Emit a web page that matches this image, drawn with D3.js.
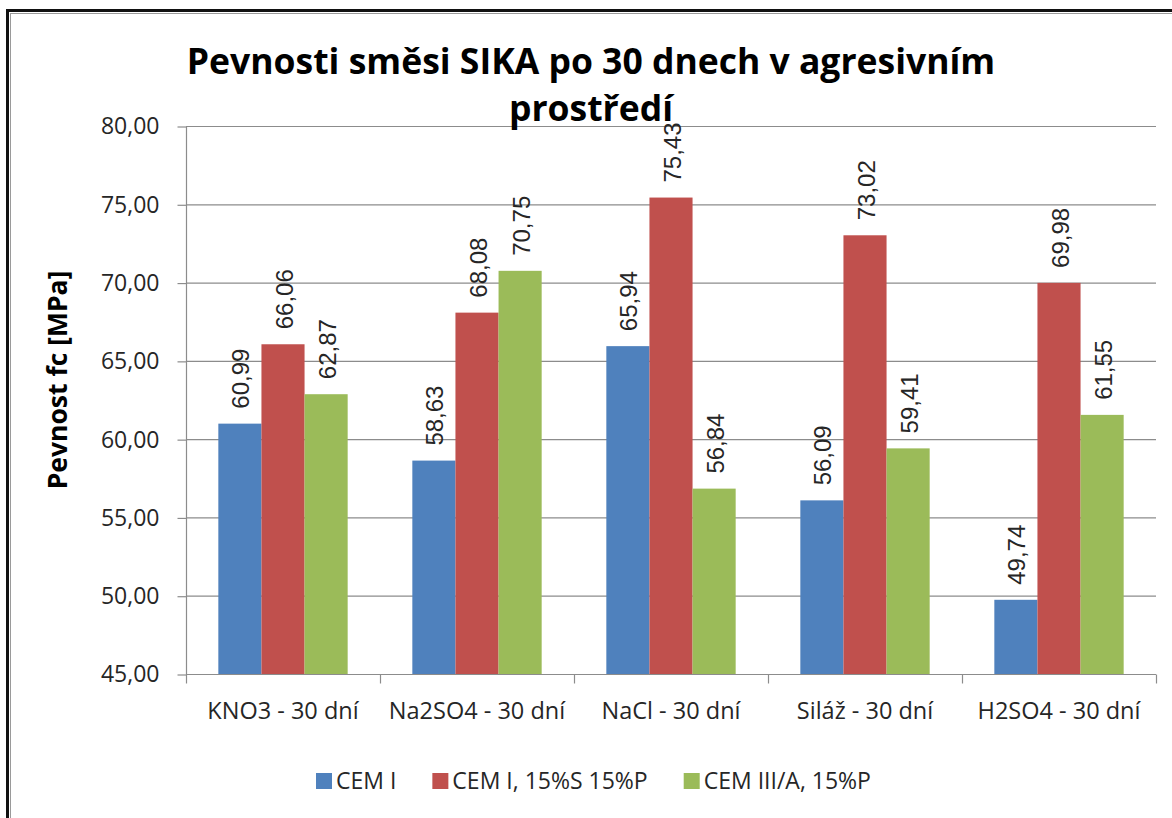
<!DOCTYPE html>
<html>
<head>
<meta charset="utf-8">
<script src="https://cdn.jsdelivr.net/npm/d3@7"></script>
<style>
	body { margin: 0; background: #fff; }
	svg { display: block; }
</style>
</head>
<body>
<script>
// * Data

const categories = ["KNO3 - 30 dní", "Na2SO4 - 30 dní", "NaCl - 30 dní", "Siláž - 30 dní", "H2SO4 - 30 dní"];
const seriesNames = ["CEM I", "CEM I, 15%S 15%P", "CEM III/A, 15%P"];
const cemI = [60.99, 58.63, 65.94, 56.09, 49.74];
const cemISP = [66.06, 68.08, 75.43, 73.02, 69.98];
const cemIIIA = [62.87, 70.75, 56.84, 59.41, 61.55];
const yTicks = [45, 50, 55, 60, 65, 70, 75, 80];
const titleLines = ["Pevnosti směsi SIKA po 30 dnech v agresivním", "prostředí"];
const yTitle = "Pevnost fc [MPa]";

// * Size & Margins
const width = 1172;
const height = 818;
const plot = { left: 186, right: 1156, top: 126, bottom: 674 };
const colors = ["#4F81BD", "#C0504D", "#9BBB59"];
const font = "'Open Sans', 'Noto Sans', sans-serif";

const svg = d3
	.select("body")
	.append("svg")
	.attr("width", width)
	.attr("height", height);

// * Frame (continues past the right and bottom edges)
svg.append("rect")
	.attr("x", 7.5).attr("y", 10.5)
	.attr("width", width + 20).attr("height", height + 20)
	.attr("fill", "#fff")
	.attr("stroke", "#111")
	.attr("stroke-width", 3);
svg.append("rect")
	.attr("x", 10.5).attr("y", 13.5)
	.attr("width", width + 20).attr("height", height + 20)
	.attr("fill", "none")
	.attr("stroke", "#9a9a9a")
	.attr("stroke-width", 1);

// * Scales
const x = d3.scaleBand()
	.domain(categories)
	.range([plot.left, plot.right])
	.padding(0);

const xInner = d3.scaleBand()
	.domain(seriesNames)
	.range([0, x.bandwidth()])
	.paddingInner(0)
	.paddingOuter(0.75);

const y = d3.scaleLinear()
	.domain([45, 80])
	.range([plot.bottom, plot.top]);

const color = d3.scaleOrdinal().domain(seriesNames).range(colors);
const fmt = (v) => d3.format(".2f")(v).replace(".", ",");

// * Grid lines
svg.append("g")
	.selectAll("line")
	.data(yTicks.slice(1))
	.join("line")
	.attr("x1", plot.left).attr("x2", plot.right)
	.attr("y1", (d) => y(d) + 0.5).attr("y2", (d) => y(d) + 0.5)
	.attr("stroke", "#8c8c8c")
	.attr("stroke-width", 1.2);

// * Y axis
const yAxis = svg.append("g")
	.attr("transform", `translate(${plot.left + 0.5},0.5)`)
	.call(d3.axisLeft(y).tickValues(yTicks).tickSize(9).tickPadding(18).tickFormat(fmt));
yAxis.selectAll("path, line").attr("stroke", "#8c8c8c").attr("stroke-width", 1.2);
yAxis.select(".domain").attr("d", `M0,${plot.top}V${plot.bottom}`);
yAxis.selectAll("text")
	.attr("font-family", font)
	.attr("font-size", 23)
	.attr("fill", "#262626");

// * X axis
const xAxisG = svg.append("g")
	.attr("transform", `translate(0,${plot.bottom + 0.5})`);
xAxisG.append("line")
	.attr("x1", plot.left).attr("x2", plot.right)
	.attr("stroke", "#8c8c8c").attr("stroke-width", 1.2);
xAxisG.selectAll(".tk")
	.data(categories.concat([null]))
	.join("line")
	.attr("class", "tk")
	.attr("x1", (d, i) => Math.round(plot.left + i * x.step()) + 0.5)
	.attr("x2", (d, i) => Math.round(plot.left + i * x.step()) + 0.5)
	.attr("y1", 0).attr("y2", 9)
	.attr("stroke", "#8c8c8c").attr("stroke-width", 1.2);
xAxisG.selectAll("text")
	.data(categories)
	.join("text")
	.attr("x", (d) => x(d) + x.bandwidth() / 2)
	.attr("y", 44)
	.attr("text-anchor", "middle")
	.attr("font-family", font)
	.attr("font-size", 23.5)
	.attr("fill", "#262626")
	.text((d) => d);

// * Bars
const rows = [];
categories.forEach((c, i) => {
	rows.push({ cat: c, s: seriesNames[0], v: cemI[i] });
	rows.push({ cat: c, s: seriesNames[1], v: cemISP[i] });
	rows.push({ cat: c, s: seriesNames[2], v: cemIIIA[i] });
});

svg.append("g")
	.selectAll("rect")
	.data(rows)
	.join("rect")
	.attr("x", (d) => x(d.cat) + xInner(d.s))
	.attr("y", (d) => y(d.v))
	.attr("width", xInner.bandwidth())
	.attr("height", (d) => y(45) - y(d.v))
	.attr("fill", (d) => color(d.s));

// * Value labels (rotated)
svg.append("g")
	.selectAll("text")
	.data(rows)
	.join("text")
	.attr("transform", (d) => {
		const cx = x(d.cat) + xInner(d.s) + xInner.bandwidth() / 2;
		return `translate(${cx + 9.5},${y(d.v) - 15}) rotate(-90)`;
	})
	.attr("font-family", "'Liberation Sans', Arial, sans-serif")
	.attr("font-size", 24)
	.attr("fill", "#262626")
	.text((d) => fmt(d.v));

// * Title
svg.append("g")
	.selectAll("text")
	.data(titleLines)
	.join("text")
	.attr("x", 591)
	.attr("y", (d, i) => 74 + i * 47)
	.attr("text-anchor", "middle")
	.attr("font-family", font)
	.attr("font-weight", "bold")
	.attr("font-size", 35.5)
	.attr("fill", "#000")
	.text((d) => d);

// * Y title
svg.append("text")
	.attr("transform", "translate(67,380) rotate(-90)")
	.attr("text-anchor", "middle")
	.attr("font-family", font)
	.attr("font-weight", "bold")
	.attr("font-size", 26.5)
	.attr("fill", "#000")
	.text(yTitle);

// * Legend
const legend = svg.append("g").attr("transform", "translate(316,781)");
let lx = 0;
seriesNames.forEach((s) => {
	legend.append("rect")
		.attr("x", lx).attr("y", -8)
		.attr("width", 16).attr("height", 16)
		.attr("fill", color(s));
	const t = legend.append("text")
		.attr("x", lx + 20).attr("y", 8)
		.attr("font-family", font)
		.attr("font-size", 23)
		.attr("fill", "#262626")
		.text(s);
	lx += 20 + t.node().getComputedTextLength() + 36;
});
</script>
</body>
</html>
